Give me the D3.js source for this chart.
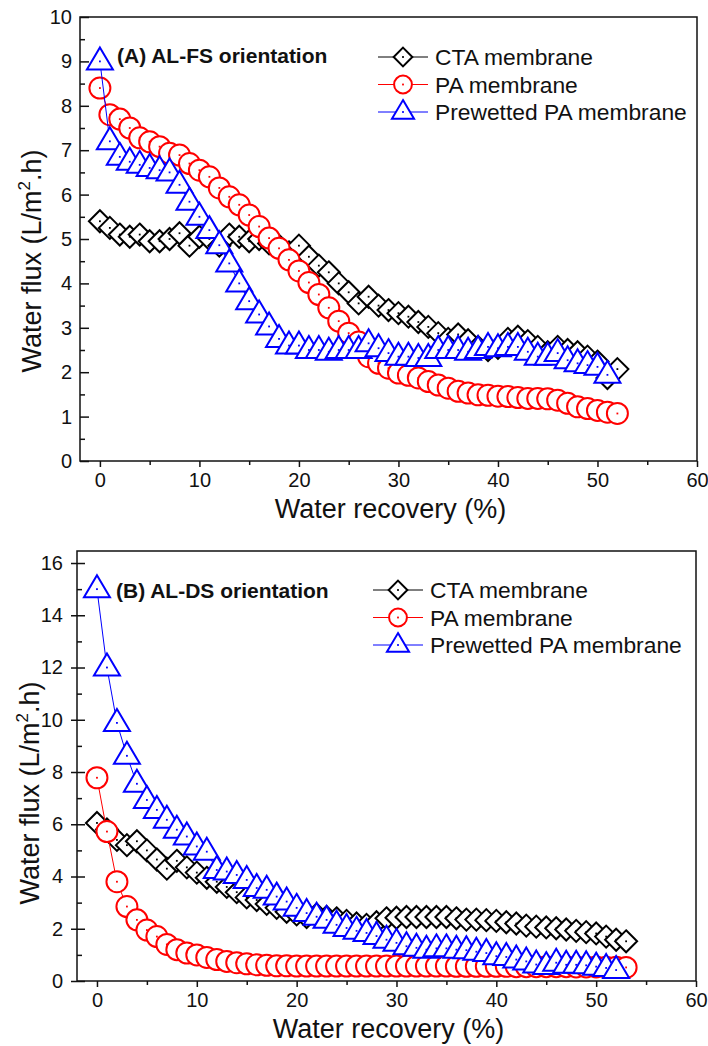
<!DOCTYPE html>
<html>
<head>
<meta charset="utf-8">
<script src="https://cdn.jsdelivr.net/npm/d3@7"></script>
<style>
  body { margin: 0; background: #fff; }
  text { font-family: 'Liberation Sans', Arial, sans-serif; fill: #111; }
</style>
</head>
<body>
<script>
var width = 708;
var height = 1046;

// axis ticks
var xTicks = [0, 10, 20, 30, 40, 50, 60];
var xMinorTicks = [5, 15, 25, 35, 45, 55];
var yTicksA = [0, 1, 2, 3, 4, 5, 6, 7, 8, 9, 10];
var yMinorTicksA = [0.5, 1.5, 2.5, 3.5, 4.5, 5.5, 6.5, 7.5, 8.5, 9.5];
var yTicksB = [0, 2, 4, 6, 8, 10, 12, 14, 16];
var yMinorTicksB = [1, 3, 5, 7, 9, 11, 13, 15];

var seriesNames = ['CTA membrane', 'PA membrane', 'Prewetted PA membrane'];
var seriesColors = ['#000000', '#ff0000', '#0000ff'];
var seriesShapes = ['diamond', 'circle', 'triangle'];

// (A) AL-FS orientation
var ctaRecoveryA = [0, 1, 2, 3, 4, 5, 6, 7, 8, 9, 10, 11, 12, 13, 14, 15, 16, 17, 18, 19, 20, 21, 22, 23, 24, 25,
  26, 27, 28, 29, 30, 31, 32, 33, 34, 35, 36, 37, 38, 39, 40, 41, 42, 43, 44, 45, 46, 47, 48, 49, 50, 51, 52];
var ctaFluxA = [5.4, 5.25, 5.1, 5.05, 5.1, 4.95, 4.95, 5.0, 5.13, 4.85, 5.05, 5.0, 4.85, 5.1, 5.05, 4.95, 5.0,
  4.9, 4.85, 4.7, 4.85, 4.6, 4.4, 4.25, 4.0, 3.8, 3.55, 3.7, 3.5, 3.4, 3.33, 3.25, 3.13, 3.02, 2.88, 2.75, 2.85,
  2.72, 2.57, 2.5, 2.55, 2.75, 2.8, 2.7, 2.57, 2.45, 2.57, 2.5, 2.45, 2.35, 2.24, 1.87, 2.07];
var paRecoveryA = [0, 1, 2, 3, 4, 5, 6, 7, 8, 9, 10, 11, 12, 13, 14, 15, 16, 17, 18, 19, 20, 21, 22, 23, 24, 25,
  26, 27, 28, 29, 30, 31, 32, 33, 34, 35, 36, 37, 38, 39, 40, 41, 42, 43, 44, 45, 46, 47, 48, 49, 50, 51, 52];
var paFluxA = [8.4, 7.8, 7.7, 7.5, 7.28, 7.19, 7.08, 6.93, 6.89, 6.7, 6.55, 6.4, 6.15, 5.95, 5.77, 5.54, 5.28,
  5.02, 4.79, 4.53, 4.28, 4.02, 3.75, 3.45, 3.15, 2.88, 2.68, 2.35, 2.2, 2.09, 1.98, 1.93, 1.87, 1.79, 1.71, 1.64,
  1.57, 1.53, 1.49, 1.48, 1.46, 1.45, 1.43, 1.41, 1.41, 1.4, 1.37, 1.3, 1.22, 1.18, 1.14, 1.1, 1.07];
var preRecoveryA = [0, 1, 2, 3, 4, 5, 6, 7, 8, 9, 10, 11, 12, 13, 14, 15, 16, 17, 18, 19, 20, 21, 22, 23, 24, 25,
  26, 27, 28, 29, 30, 31, 32, 33, 34, 35, 36, 37, 38, 39, 40, 41, 42, 43, 44, 45, 46, 47, 48, 49, 50, 51];
var preFluxA = [9.0, 7.2, 6.85, 6.74, 6.67, 6.6, 6.55, 6.5, 6.22, 5.84, 5.5, 5.2, 4.86, 4.45, 4.0, 3.6, 3.3,
  3.03, 2.75, 2.6, 2.6, 2.5, 2.5, 2.46, 2.5, 2.5, 2.5, 2.65, 2.54, 2.43, 2.35, 2.35, 2.32, 2.32, 2.5, 2.5, 2.5,
  2.46, 2.5, 2.57, 2.54, 2.57, 2.57, 2.46, 2.35, 2.35, 2.43, 2.27, 2.2, 2.16, 2.12, 1.94];

// (B) AL-DS orientation
var ctaRecoveryB = [0, 1, 2, 3, 4, 5, 6, 7, 8, 9, 10, 11, 12, 13, 14, 15, 16, 17, 18, 19, 20, 21, 22, 23, 24, 25,
  26, 27, 28, 29, 30, 31, 32, 33, 34, 35, 36, 37, 38, 39, 40, 41, 42, 43, 44, 45, 46, 47, 48, 49, 50, 51, 52, 53];
var ctaFluxB = [6.05, 5.8, 5.4, 5.2, 5.35, 5.0, 4.65, 4.3, 4.6, 4.35, 4.15, 3.95, 3.8, 3.6, 3.4, 3.2, 3.1, 2.95,
  2.8, 2.65, 2.55, 2.45, 2.55, 2.45, 2.4, 2.3, 2.2, 2.15, 2.25, 2.4, 2.42, 2.45, 2.45, 2.45, 2.45, 2.45, 2.4, 2.35,
  2.35, 2.33, 2.3, 2.25, 2.2, 2.12, 2.08, 2.05, 2.02, 1.97, 1.92, 1.87, 1.82, 1.7, 1.58, 1.52];
var paRecoveryB = [0, 1, 2, 3, 4, 5, 6, 7, 8, 9, 10, 11, 12, 13, 14, 15, 16, 17, 18, 19, 20, 21, 22, 23, 24, 25,
  26, 27, 28, 29, 30, 31, 32, 33, 34, 35, 36, 37, 38, 39, 40, 41, 42, 43, 44, 45, 46, 47, 48, 49, 50, 51, 52, 53];
var paFluxB = [7.78, 5.72, 3.8, 2.85, 2.34, 1.95, 1.7, 1.4, 1.2, 1.07, 1.0, 0.9, 0.82, 0.75, 0.7, 0.66, 0.62, 0.6,
  0.58, 0.58, 0.57, 0.57, 0.57, 0.57, 0.57, 0.57, 0.57, 0.57, 0.57, 0.57, 0.57, 0.57, 0.57, 0.57, 0.57, 0.57, 0.56,
  0.56, 0.56, 0.56, 0.56, 0.56, 0.55, 0.55, 0.55, 0.55, 0.55, 0.55, 0.54, 0.54, 0.54, 0.53, 0.53, 0.52];
var preRecoveryB = [0, 1, 2, 3, 4, 5, 6, 7, 8, 9, 10, 11, 12, 13, 14, 15, 16, 17, 18, 19, 20, 21, 22, 23, 24, 25,
  26, 27, 28, 29, 30, 31, 32, 33, 34, 35, 36, 37, 38, 39, 40, 41, 42, 43, 44, 45, 46, 47, 48, 49, 50, 51, 52];
var preFluxB = [15.0, 12.0, 9.88, 8.62, 7.55, 6.93, 6.55, 6.17, 5.79, 5.53, 5.15, 4.95, 4.25, 4.19, 4.06, 3.87,
  3.56, 3.49, 3.23, 3.04, 2.8, 2.6, 2.46, 2.34, 2.15, 2.03, 1.92, 1.84, 1.72, 1.58, 1.46, 1.33, 1.27, 1.2, 1.25,
  1.25, 1.2, 1.18, 1.12, 1.07, 0.95, 0.92, 0.82, 0.75, 0.63, 0.57, 0.7, 0.62, 0.62, 0.6, 0.55, 0.5, 0.42];

var svg = d3.select('body')
  .append('svg')
  .attr('width', width)
  .attr('height', height);

function zipSeries(xs, ys) {
  return xs.map(function(x, i) {
    return { x: x, y: ys[i] };
  });
}

function symbolPath(shape, s) {
  if (shape === 'diamond') {
    return 'M0,' + (-11 * s) + 'L' + (11 * s) + ',0L0,' + (11 * s) + 'L' + (-11 * s) + ',0Z';
  }
  if (shape === 'triangle') {
    return 'M0,' + (-14 * s) + 'L' + (13 * s) + ',' + (8 * s) + 'L' + (-13 * s) + ',' + (8 * s) + 'Z';
  }
  var r = 10.5 * s;
  return 'M' + r + ',0A' + r + ',' + r + ' 0 1,1 ' + (-r) + ',0A' + r + ',' + r + ' 0 1,1 ' + r + ',0Z';
}

function drawSymbols(g, pts, shape, color, s) {
  var sym = g.selectAll('g.sym-' + shape)
    .data(pts)
    .enter()
    .append('g')
    .attr('class', 'sym-' + shape)
    .attr('transform', function(d) {
      return 'translate(' + d.px + ',' + d.py + ')';
    });
  sym.append('path')
    .attr('d', symbolPath(shape, s))
    .attr('fill', '#fff')
    .attr('stroke', color)
    .attr('stroke-width', 2);
  sym.append('rect')
    .attr('x', -0.9)
    .attr('y', -0.9)
    .attr('width', 1.8)
    .attr('height', 1.8)
    .attr('fill', color);
}

function drawPanel(p) {
  var xScale = d3.scaleLinear().domain([-2, 60]).range([p.left, p.right]);
  var yScale = d3.scaleLinear().domain([0, p.yMax]).range([p.bottom, p.top]);

  // x axis, ticks outward
  svg.append('g')
    .attr('transform', 'translate(0,' + p.bottom + ')')
    .call(d3.axisBottom(xScale).tickValues(xTicks).tickSize(6).tickSizeOuter(0).tickPadding(6))
    .call(function(g) {
      g.select('.domain').remove();
      g.selectAll('line').attr('stroke', '#111').attr('stroke-width', 1.5);
      g.selectAll('text').attr('font-size', '20px').attr('fill', '#111');
    });
  svg.append('g')
    .attr('transform', 'translate(0,' + p.bottom + ')')
    .call(d3.axisBottom(xScale).tickValues(xMinorTicks).tickSize(4).tickSizeOuter(0).tickFormat(''))
    .call(function(g) {
      g.select('.domain').remove();
      g.selectAll('line').attr('stroke', '#111').attr('stroke-width', 1.5);
    });

  // y axis, ticks inward
  svg.append('g')
    .attr('transform', 'translate(' + p.left + ',0)')
    .call(d3.axisLeft(yScale).tickValues(p.yTicks).tickSize(-p.yTickIn).tickSizeOuter(0).tickPadding(8))
    .call(function(g) {
      g.select('.domain').remove();
      g.selectAll('line').attr('stroke', '#111').attr('stroke-width', 1.5)
        .attr('x1', -p.yTickOut);
      g.selectAll('text').attr('font-size', '20px').attr('fill', '#111')
        .attr('x', -8 - p.yTickOut);
    });
  svg.append('g')
    .attr('transform', 'translate(' + p.left + ',0)')
    .call(d3.axisLeft(yScale).tickValues(p.yMinorTicks).tickSize(-5).tickSizeOuter(0).tickFormat(''))
    .call(function(g) {
      g.select('.domain').remove();
      g.selectAll('line').attr('stroke', '#111').attr('stroke-width', 1.5);
    });

  // frame
  svg.append('rect')
    .attr('x', p.left)
    .attr('y', p.top)
    .attr('width', p.right - p.left)
    .attr('height', p.bottom - p.top)
    .attr('fill', 'none')
    .attr('stroke', '#111')
    .attr('stroke-width', 1.5);

  // series
  var line = d3.line()
    .x(function(d) { return xScale(d.x); })
    .y(function(d) { return yScale(d.y); });

  p.series.forEach(function(ser, i) {
    var g = svg.append('g');
    g.append('path')
      .datum(ser)
      .attr('d', line)
      .attr('fill', 'none')
      .attr('stroke', seriesColors[i])
      .attr('stroke-width', 1);
    var pts = ser.map(function(d) {
      return { px: xScale(d.x), py: yScale(d.y) };
    });
    drawSymbols(g, pts, seriesShapes[i], seriesColors[i], 1);
  });

  // axis titles
  svg.append('text')
    .attr('x', (xScale(0) + xScale(60)) / 2 - 8)
    .attr('y', p.bottom + 57)
    .attr('text-anchor', 'middle')
    .attr('font-size', '27px')
    .text('Water recovery (%)');

  var yt = svg.append('text')
    .attr('transform', 'translate(' + p.yTitleX + ',' + p.yTitleY + ') rotate(-90)')
    .attr('text-anchor', 'middle')
    .attr('font-size', '27px');
  yt.append('tspan').text('Water flux (L/m');
  yt.append('tspan').attr('font-size', '17px').attr('dy', -11).text('2');
  yt.append('tspan').attr('dy', 11).text('.h)');

  // panel label
  svg.append('text')
    .attr('x', p.labelX)
    .attr('y', p.labelY)
    .attr('font-size', '21px')
    .attr('font-weight', 'bold')
    .text(p.label);

  // legend
  seriesNames.forEach(function(name, i) {
    var cy = p.legendY + i * 27.5;
    var lg = svg.append('g');
    lg.append('line')
      .attr('x1', p.legendX - 25)
      .attr('x2', p.legendX + 25)
      .attr('y1', cy)
      .attr('y2', cy)
      .attr('stroke', seriesColors[i])
      .attr('stroke-width', 1);
    drawSymbols(lg, [{ px: p.legendX, py: cy }], seriesShapes[i], seriesColors[i], 0.85);
    lg.append('text')
      .attr('x', p.legendX + 32)
      .attr('y', cy)
      .attr('dy', '0.36em')
      .attr('font-size', '22.8px')
      .text(name);
  });
}

drawPanel({
  left: 80, right: 697, top: 17, bottom: 461,
  yMax: 10, yTicks: yTicksA, yMinorTicks: yMinorTicksA,
  yTickIn: 9, yTickOut: 0,
  yTitleX: 41, yTitleY: 261,
  label: '(A) AL-FS orientation', labelX: 117, labelY: 63,
  legendX: 403, legendY: 57,
  series: [zipSeries(ctaRecoveryA, ctaFluxA), zipSeries(paRecoveryA, paFluxA), zipSeries(preRecoveryA, preFluxA)]
});

drawPanel({
  left: 77, right: 696, top: 551, bottom: 981,
  yMax: 16.46, yTicks: yTicksB, yMinorTicks: yMinorTicksB,
  yTickIn: 8, yTickOut: 6,
  yTitleX: 39, yTitleY: 793,
  label: '(B) AL-DS orientation', labelX: 116, labelY: 598,
  legendX: 398, legendY: 590,
  series: [zipSeries(ctaRecoveryB, ctaFluxB), zipSeries(paRecoveryB, paFluxB), zipSeries(preRecoveryB, preFluxB)]
});
</script>
</body>
</html>
